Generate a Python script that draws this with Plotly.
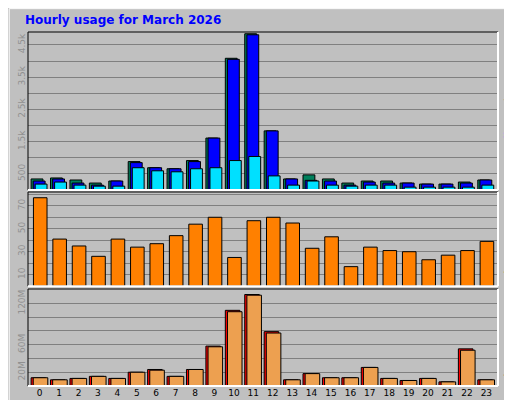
import plotly.graph_objects as go

hours = list(range(24))
hits = [339,370,307,212,275,878,688,656,910,1608,4084,4846,1831,339,466,339,212,275,275,212,180,180,243,307]
files = [275,339,212,148,275,846,688,656,878,1608,4052,4814,1831,339,296,275,148,243,212,212,180,180,212,307]
pages = [180,243,148,116,116,688,592,561,656,688,910,1037,434,148,275,148,116,148,148,85,85,85,85,148]
sites = [77,41,35,26,41,34,37,44,54,60,25,57,60,55,33,43,17,34,31,30,23,27,31,39]
vol_total = [12,9,11,14,11,20,24,14,24,58,110,133,79,9,18,12,12,27,11,8,11,6,54,9]
vol_out = [12,9,11,14,11,20,23,14,24,57,108,132,77,9,18,12,12,27,11,8,11,6,52,9]

fig = go.Figure()
line = dict(color="black", width=1)
def bar(y, color, off, w, ax):
    fig.add_trace(go.Bar(x=hours, y=y, marker=dict(color=color, line=line),
                         offset=off, width=w, xaxis="x"+ax if ax else "x",
                         yaxis="y"+ax if ax else "y", showlegend=False, hoverinfo="skip"))
bar(hits, "#00805C", -0.44, 0.61, "")
bar(files, "#0000FF", -0.33, 0.61, "")
bar(pages, "#00E0FF", -0.23, 0.61, "")
bar(sites, "#FF8000", -0.32, 0.70, "2")
bar(vol_total, "#FF0000", -0.44, 0.75, "3")
bar(vol_out, "#EDA050", -0.33, 0.75, "3")

grid = dict(showgrid=True, gridcolor="#808080", gridwidth=1, zeroline=False, automargin=False,
            tickangle=-90, tickfont=dict(family="DejaVu Sans", size=9, color="#909090"),
            ticks="", fixedrange=True)
xcommon = dict(range=[-0.6, 23.6], showgrid=False, zeroline=False, ticks="", automargin=False)
fig.update_layout(
    width=512, height=400, barmode="overlay",
    paper_bgcolor="#C0C0C0", plot_bgcolor="#C0C0C0",
    margin=dict(l=20, r=22, t=24, b=22),
    xaxis=dict(**xcommon, showticklabels=False, anchor="y"),
    xaxis2=dict(**xcommon, showticklabels=False, anchor="y2", matches="x"),
    xaxis3=dict(**xcommon, anchor="y3", matches="x", tickvals=hours,
                tickfont=dict(family="DejaVu Sans", size=9, color="black")),
    yaxis=dict(**grid, domain=[0.554, 1], range=[0, 4900],
               tickvals=[500,1500,2500,3500,4500], ticktext=["500","1.5k","2.5k","3.5k","4.5k"],
               minor=dict(dtick=500, tick0=0, showgrid=True, gridcolor="#808080")),
    yaxis2=dict(**grid, domain=[0.282, 0.548], range=[0, 82], tickvals=[10,30,50,70],
                minor=dict(dtick=10, tick0=0, showgrid=True, gridcolor="#808080")),
    yaxis3=dict(**grid, domain=[0, 0.274], range=[0, 141],
                tickvals=[20,40,60,80,100,120], ticktext=["20M","","60M","","","120M"]),
)

shapes = []
for d in ([0.554, 1], [0.282, 0.548], [0, 0.274]):
    y0, y1 = d
    shapes += [
        dict(type="line", xref="paper", yref="paper", x0=0, x1=1, y0=y1, y1=y1, line=dict(color="black", width=1)),
        dict(type="line", xref="paper", yref="paper", x0=0, x1=0, y0=y0, y1=y1, line=dict(color="black", width=1)),
        dict(type="line", xref="paper", yref="paper", x0=0, x1=1, y0=y0, y1=y0, line=dict(color="white", width=2)),
        dict(type="line", xref="paper", yref="paper", x0=1, x1=1, y0=y0, y1=y1, line=dict(color="white", width=2)),
    ]
shapes += [
    dict(type="rect", xref="paper", yref="paper", x0=-0.04, x1=1.045, y0=-0.062, y1=1.066,
         line=dict(color="white", width=1), layer="below"),
]
fig.update_layout(shapes=shapes)

fig.add_annotation(text="Hourly usage for March 2026", xref="paper", yref="paper", x=-0.01, y=1.06,
                   xanchor="left", yanchor="top", showarrow=False,
                   font=dict(family="DejaVu Sans", size=12, color="#0000FF", weight="bold"))
fig.add_annotation(text="<span style='color:#00E0FF'>Pages</span> <span style='color:#0000FF'>/Files</span> <span style='color:#00805C'>/Hits_</span>",
                   xref="paper", yref="paper", x=1.025, y=0.554, xanchor="center", yanchor="bottom",
                   textangle=-90, showarrow=False, font=dict(family="DejaVu Sans", size=12))
fig.add_annotation(text="<span style='color:#FF0000'>Volume</span> <span style='color:#C8D040'>/IN</span> <span style='color:#EDA050'>/OUT</span>   <span style='color:#FF8000'>Sites</span>",
                   xref="paper", yref="paper", x=1.025, y=-0.02, xanchor="center", yanchor="bottom",
                   textangle=-90, showarrow=False, font=dict(family="DejaVu Sans", size=12))

fig.write_html("out.html")
